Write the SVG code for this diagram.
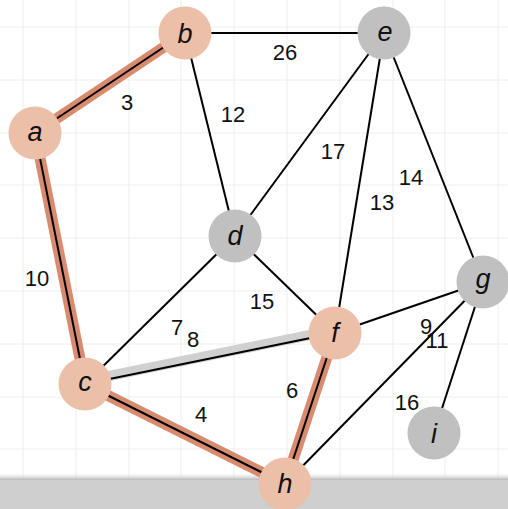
<svg xmlns="http://www.w3.org/2000/svg" width="508" height="509" viewBox="0 0 508 509">
<defs>
<linearGradient id="shade" x1="0" y1="0" x2="0" y2="1">
<stop offset="0" stop-color="#e0e0e0" stop-opacity="0"/>
<stop offset="1" stop-color="#b8b8b8" stop-opacity="1"/>
</linearGradient>
</defs>
<style>
.grid line{stroke:#eeeeee;stroke-width:1}
.hl{stroke:#d98b70;stroke-width:11;stroke-linecap:butt;fill:none}
.hg{stroke:#d0d0d0;stroke-width:10;fill:none}
.e{stroke:#000;stroke-width:2;fill:none}
.hot{fill:#ecbfa9}
.cold{fill:#c0c0c0}
.nl{font-family:"Liberation Sans",Arial,sans-serif;font-style:italic;font-size:27px;fill:#111;text-anchor:middle}
.w{font-family:"Liberation Sans",Arial,sans-serif;font-size:22px;fill:#111;text-anchor:middle}
</style>
<rect width="508" height="509" fill="#fff"/>
<g class="grid">
<line x1="23" y1="0" x2="23" y2="480"/><line x1="76" y1="0" x2="76" y2="480"/><line x1="129" y1="0" x2="129" y2="480"/><line x1="181" y1="0" x2="181" y2="480"/><line x1="234" y1="0" x2="234" y2="480"/><line x1="287" y1="0" x2="287" y2="480"/><line x1="340" y1="0" x2="340" y2="480"/><line x1="393" y1="0" x2="393" y2="480"/><line x1="445" y1="0" x2="445" y2="480"/><line x1="498" y1="0" x2="498" y2="480"/>
<line x1="0" y1="27" x2="508" y2="27"/><line x1="0" y1="80" x2="508" y2="80"/><line x1="0" y1="133" x2="508" y2="133"/><line x1="0" y1="185" x2="508" y2="185"/><line x1="0" y1="238" x2="508" y2="238"/><line x1="0" y1="291" x2="508" y2="291"/><line x1="0" y1="344" x2="508" y2="344"/><line x1="0" y1="397" x2="508" y2="397"/><line x1="0" y1="449" x2="508" y2="449"/>
</g>
<rect x="0" y="473" width="508" height="7" fill="url(#shade)"/>
<rect x="0" y="480" width="508" height="29" fill="#cfcfcf"/>
<g id="connectors">
<line class="hl" x1="35" y1="133" x2="185" y2="33"/>
<line class="hl" x1="35" y1="133" x2="85" y2="384"/>
<line class="hl" x1="85" y1="384" x2="285" y2="484"/>
<line class="hl" x1="335" y1="333" x2="285" y2="484"/>
<line class="hg" x1="84.4" y1="381" x2="334.4" y2="330"/>
<line class="e" x1="35" y1="133" x2="185" y2="33"/>
<line class="e" x1="35" y1="133" x2="85" y2="384"/>
<line class="e" x1="85" y1="384" x2="285" y2="484"/>
<line class="e" x1="335" y1="333" x2="285" y2="484"/>
<line class="e" x1="85" y1="384" x2="335" y2="333"/>
<line class="e" x1="185" y1="33" x2="384" y2="33"/>
<line class="e" x1="185" y1="33" x2="235" y2="236"/>
<line class="e" x1="384" y1="33" x2="235" y2="236"/>
<line class="e" x1="384" y1="33" x2="335" y2="333"/>
<line class="e" x1="384" y1="33" x2="483" y2="282"/>
<line class="e" x1="235" y1="236" x2="85" y2="384"/>
<line class="e" x1="235" y1="236" x2="335" y2="333"/>
<line class="e" x1="335" y1="333" x2="483" y2="282"/>
<line class="e" x1="483" y1="282" x2="285" y2="484"/>
<line class="e" x1="483" y1="282" x2="434" y2="433"/>
</g>
<g id="weights">
<text class="w" x="127" y="110">3</text>
<text class="w" x="233" y="122">12</text>
<text class="w" x="285" y="60">26</text>
<text class="w" x="333" y="159">17</text>
<text class="w" x="411" y="185">14</text>
<text class="w" x="382" y="210">13</text>
<text class="w" x="37" y="286">10</text>
<text class="w" x="177" y="335">7</text>
<text class="w" x="193" y="347">8</text>
<text class="w" x="262" y="309">15</text>
<text class="w" x="426" y="334">9</text>
<text class="w" x="437" y="348">11</text>
<text class="w" x="407" y="410">16</text>
<text class="w" x="292" y="398">6</text>
<text class="w" x="201" y="422">4</text>
</g>
<g id="node-a"><circle class="hot" cx="35" cy="133" r="26.5"/><text class="nl" x="35" y="141">a</text></g>
<g id="node-b"><circle class="hot" cx="185" cy="33" r="26.5"/><text class="nl" x="185" y="43">b</text></g>
<g id="node-c"><circle class="hot" cx="85" cy="384" r="26.5"/><text class="nl" x="85" y="391">c</text></g>
<g id="node-d"><circle class="cold" cx="235" cy="236" r="26.5"/><text class="nl" x="235" y="245">d</text></g>
<g id="node-e"><circle class="cold" cx="384" cy="33" r="26.5"/><text class="nl" x="385" y="41">e</text></g>
<g id="node-f"><circle class="hot" cx="335" cy="333" r="26.5"/><text class="nl" x="335" y="342">f</text></g>
<g id="node-g"><circle class="cold" cx="483" cy="282" r="26.5"/><text class="nl" x="483" y="288">g</text></g>
<g id="node-h"><circle class="hot" cx="285" cy="484" r="26.5"/><text class="nl" x="285" y="493">h</text></g>
<g id="node-i"><circle class="cold" cx="434" cy="433" r="26.5"/><text class="nl" x="434" y="443">i</text></g>
</svg>
